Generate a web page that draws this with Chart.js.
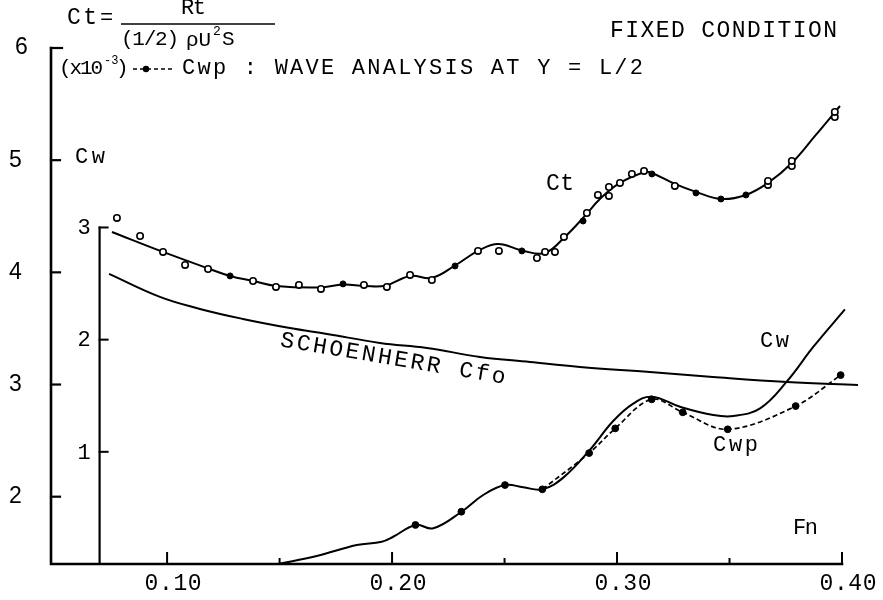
<!DOCTYPE html>
<html>
<head>
<meta charset="utf-8">
<script src="https://cdn.jsdelivr.net/npm/chart.js@4/dist/chart.umd.min.js"></script>
<style>
  body { margin: 0; background: #fff; }
  #wrap { width: 883px; height: 600px; }
</style>
</head>
<body>
<div id="wrap"><canvas id="chart" width="883" height="600"></canvas></div>
<script>
// Ct Messpunkte (offene Kreise)
var ctOpenFn  = [0.0777, 0.0880, 0.0982, 0.1080, 0.1182, 0.1382, 0.1484, 0.1586, 0.1684, 0.1875, 0.1977, 0.2080, 0.2177,
                 0.2382, 0.2475, 0.2644, 0.2680, 0.2724, 0.2764, 0.2866, 0.2915, 0.2964, 0.2964, 0.3013, 0.3066, 0.3120,
                 0.3257, 0.3671, 0.3671, 0.3777, 0.3777, 0.3968, 0.3968];
var ctOpenVal = [4.485, 4.324, 4.182, 4.066, 4.030, 3.923, 3.870, 3.888, 3.852, 3.888, 3.870, 3.977, 3.932,
                 4.191, 4.191, 4.128, 4.182, 4.182, 4.316, 4.529, 4.690, 4.681, 4.761, 4.797, 4.877, 4.904,
                 4.770, 4.779, 4.815, 4.948, 4.993, 5.385, 5.430];
// Ct Messpunkte (gefüllt)
var ctDotFn  = [0.1280, 0.1782, 0.2280, 0.2577, 0.2849, 0.3155, 0.3351, 0.3462, 0.3573];
var ctDotVal = [3.968, 3.897, 4.057, 4.191, 4.458, 4.877, 4.708, 4.654, 4.690];

// Ct Ausgleichskurve
var ctCurveFn  = [0.0755, 0.0982, 0.1177, 0.1280, 0.1382, 0.1484, 0.1680, 0.1782, 0.1880, 0.1973, 0.2080, 0.2177,
                  0.2280, 0.2382, 0.2471, 0.2577, 0.2680, 0.2768, 0.2857, 0.2924, 0.3013, 0.3124, 0.3155, 0.3257,
                  0.3351, 0.3462, 0.3573, 0.3671, 0.3777, 0.3880, 0.3991];
var ctCurveVal = [4.360, 4.182, 4.039, 3.968, 3.923, 3.879, 3.865, 3.892, 3.879, 3.883, 3.968, 3.950,
                  4.061, 4.191, 4.253, 4.195, 4.173, 4.316, 4.503, 4.654, 4.797, 4.895, 4.886, 4.788,
                  4.717, 4.654, 4.690, 4.797, 4.975, 5.216, 5.483];

// Schoenherr Cfo
var cfoFn  = [0.0742, 0.0968, 0.1146, 0.1337, 0.1546, 0.1711, 0.1946, 0.2155, 0.2391, 0.2613, 0.2835, 0.3146, 0.3426, 0.3755, 0.4071];
var cfoVal = [3.986, 3.781, 3.674, 3.585, 3.504, 3.451, 3.371, 3.326, 3.246, 3.201, 3.157, 3.112, 3.068, 3.023, 2.996];

// Cw Kurve
var cwFn  = [0.1493, 0.1665, 0.1843, 0.1954, 0.2005, 0.2105, 0.2183, 0.2309, 0.2405, 0.2502, 0.2583, 0.2669,
             0.2761, 0.2876, 0.2983, 0.3072, 0.3154, 0.3280, 0.3428, 0.3517, 0.3636, 0.3754, 0.3873, 0.4013];
var cwVal = [0.000, 0.071, 0.169, 0.199, 0.243, 0.348, 0.318, 0.466, 0.615, 0.704, 0.684, 0.666,
             0.770, 1.010, 1.275, 1.430, 1.491, 1.402, 1.328, 1.319, 1.388, 1.625, 1.937, 2.270];

// Cwp Wellenanalyse
var cwpFn  = [0.2104, 0.2308, 0.2502, 0.2668, 0.2876, 0.2992, 0.3154, 0.3292, 0.3492, 0.3794, 0.3994];
var cwpVal = [0.348, 0.466, 0.704, 0.666, 0.989, 1.209, 1.468, 1.352, 1.201, 1.408, 1.684];
var cwpDashFrom = 3; // gestrichelte Linie erst ab hier sichtbar

// Achsen
var ctTicks = [2, 3, 4, 5, 6];
var cwTicks = [1, 2, 3];
var fnTicks = [0.10, 0.15, 0.20, 0.25, 0.30, 0.35, 0.40];
var fnLabels = ['0.10', '', '0.20', '', '0.30', '', '0.40'];

function pts(xs, ys) {
    return xs.map(function (x, i) { return { x: x, y: ys[i] }; });
}

var MONO = '"Liberation Mono", "DejaVu Sans Mono", monospace';
var SANS = '"Liberation Sans", Arial, sans-serif';

// Text mit Zielbreite zeichnen
function txt(ctx, s, x, y, size, w, family, align) {
    ctx.save();
    ctx.font = size + 'px ' + (family || MONO);
    ctx.textBaseline = 'middle';
    ctx.textAlign = 'left';
    if (w) {
        ctx.letterSpacing = '0px';
        var m = ctx.measureText(s).width;
        var sp = (w - m) / Math.max(1, s.length - 1);
        ctx.letterSpacing = sp + 'px';
        if (align === 'center') x = x - w / 2;
    } else if (align === 'center') {
        x = x - ctx.measureText(s).width / 2;
    }
    ctx.fillStyle = '#000';
    ctx.fillText(s, x, y);
    ctx.restore();
}

var axesPlugin = {
    id: 'axes',
    afterDraw: function (chart) {
        var ctx = chart.ctx;
        var xs = chart.scales.x, ys = chart.scales.y, y2 = chart.scales.y2;
        var x0 = xs.getPixelForValue(xs.min);
        var xEnd = xs.getPixelForValue(0.40);
        var xCw = xs.getPixelForValue(0.07);
        var base = ys.getPixelForValue(ys.min);

        ctx.save();
        ctx.strokeStyle = '#000';
        ctx.lineCap = 'square';

        // Ct Achse
        ctx.lineWidth = 2.6;
        ctx.beginPath();
        ctx.moveTo(x0, ys.getPixelForValue(6));
        ctx.lineTo(x0, base);
        ctx.lineTo(xEnd, base);
        ctx.stroke();
        ctx.lineWidth = 2.2;
        ctTicks.forEach(function (v) {
            var p = ys.getPixelForValue(v);
            ctx.beginPath();
            ctx.moveTo(x0, p);
            ctx.lineTo(x0 + (v === 6 ? 11 : 9), p);
            ctx.stroke();
            txt(ctx, String(v), v === 6 ? 15 : 9, p, 23, 0, SANS);
        });

        // Cw Achse
        ctx.lineWidth = 2.2;
        ctx.beginPath();
        ctx.moveTo(xCw, y2.getPixelForValue(3));
        ctx.lineTo(xCw, base);
        ctx.stroke();
        cwTicks.forEach(function (v) {
            var p = y2.getPixelForValue(v);
            ctx.lineWidth = 2;
            ctx.beginPath();
            ctx.moveTo(xCw, p);
            ctx.lineTo(xCw + 8, p);
            ctx.stroke();
            txt(ctx, String(v), 84, p + 1, 22, 0, MONO, 'center');
        });

        // Fn Achse
        fnTicks.forEach(function (v, i) {
            var p = xs.getPixelForValue(v);
            var major = fnLabels[i] !== '';
            ctx.lineWidth = 2;
            ctx.beginPath();
            ctx.moveTo(p, base);
            ctx.lineTo(p, base - (major ? 11 : 5));
            ctx.stroke();
            if (major) txt(ctx, fnLabels[i], p + 6, base + 20, 23, 57, MONO, 'center');
        });
        ctx.restore();

        // Formel
        txt(ctx, 'Ct', 67, 18, 23, 30, MONO);
        txt(ctx, '=', 100, 18, 22, 0, MONO);
        txt(ctx, 'Rt', 181, 8, 22, 25, MONO);
        ctx.save();
        ctx.lineWidth = 1.3;
        ctx.beginPath();
        ctx.moveTo(121, 24);
        ctx.lineTo(275, 24);
        ctx.stroke();
        ctx.restore();
        txt(ctx, '(1/2)', 121, 39, 21, 58, MONO);
        txt(ctx, '\u03c1U', 186, 40, 21, 0, MONO);
        txt(ctx, '2', 213, 32, 13, 0, MONO);
        txt(ctx, 'S', 222, 39, 21, 0, MONO);

        txt(ctx, 'FIXED CONDITION', 610, 31, 23, 227, MONO);

        // Legende
        txt(ctx, '(x10', 59, 68, 21, 44, MONO);
        txt(ctx, '-3', 104, 61, 12, 0, MONO);
        txt(ctx, ')', 116, 68, 21, 0, MONO);
        ctx.save();
        ctx.lineWidth = 1.6;
        ctx.setLineDash([4, 3]);
        ctx.beginPath();
        ctx.moveTo(133, 69);
        ctx.lineTo(172, 69);
        ctx.stroke();
        ctx.setLineDash([]);
        ctx.beginPath();
        ctx.arc(146, 69, 3.2, 0, Math.PI * 2);
        ctx.fill();
        ctx.restore();
        txt(ctx, 'Cwp : WAVE ANALYSIS AT Y = L/2', 182, 68, 22, 461, MONO);

        // Kurvenbeschriftungen
        txt(ctx, 'Cw', 75, 157, 22, 30, MONO);
        txt(ctx, 'Ct', 546, 184, 23, 28, MONO);
        txt(ctx, 'Cw', 760, 341, 22, 29, MONO);
        txt(ctx, 'Cwp', 713, 445, 22, 45, MONO);
        txt(ctx, 'Fn', 793, 528, 22, 25, MONO);

        ctx.save();
        ctx.translate(393, 359);
        ctx.rotate(0.165);
        txt(ctx, 'SCHOENHERR Cfo', 0, 0, 23, 228, MONO, 'center');
        ctx.restore();
    }
};

var ctx = document.getElementById('chart').getContext('2d');
var myChart = new Chart(ctx, {
    type: 'scatter',
    data: {
        datasets: [{
            label: 'Ct open',
            data: pts(ctOpenFn, ctOpenVal),
            yAxisID: 'y',
            pointRadius: 3.2,
            pointBorderWidth: 1.6,
            pointBackgroundColor: '#fff',
            pointBorderColor: '#000',
            showLine: false
        }, {
            label: 'Ct dots',
            data: pts(ctDotFn, ctDotVal),
            yAxisID: 'y',
            pointRadius: 3,
            pointBackgroundColor: '#000',
            pointBorderColor: '#000',
            showLine: false
        }, {
            label: 'Cwp dots',
            data: pts(cwpFn, cwpVal),
            yAxisID: 'y2',
            showLine: false,
            pointRadius: 3.4,
            pointBackgroundColor: '#000',
            pointBorderColor: '#000'
        }, {
            label: 'Cwp',
            data: pts(cwpFn.slice(cwpDashFrom), cwpVal.slice(cwpDashFrom)),
            yAxisID: 'y2',
            showLine: true,
            borderColor: '#000',
            borderWidth: 1.7,
            borderDash: [5, 3],
            tension: 0.35,
            pointRadius: 0
        }, {
            label: 'Ct',
            data: pts(ctCurveFn, ctCurveVal),
            yAxisID: 'y',
            showLine: true,
            borderColor: '#000',
            borderWidth: 2,
            tension: 0.4,
            pointRadius: 0
        }, {
            label: 'Cfo',
            data: pts(cfoFn, cfoVal),
            yAxisID: 'y',
            showLine: true,
            borderColor: '#000',
            borderWidth: 2,
            tension: 0.4,
            pointRadius: 0
        }, {
            label: 'Cw',
            data: pts(cwFn, cwVal),
            yAxisID: 'y2',
            showLine: true,
            borderColor: '#000',
            borderWidth: 2,
            tension: 0.4,
            pointRadius: 0
        }]
    },
    options: {
        responsive: false,
        animation: false,
        layout: { padding: { left: 51, right: 23, top: 48, bottom: 36 } },
        plugins: { legend: { display: false }, tooltip: { enabled: false } },
        scales: {
            x: { type: 'linear', min: 0.0484, max: 0.408, display: false },
            y: { type: 'linear', min: 1.4, max: 6.0, display: false },
            y2: { type: 'linear', min: 0, max: 4.6, display: false }
        }
    },
    plugins: [axesPlugin]
});
</script>
</body>
</html>
